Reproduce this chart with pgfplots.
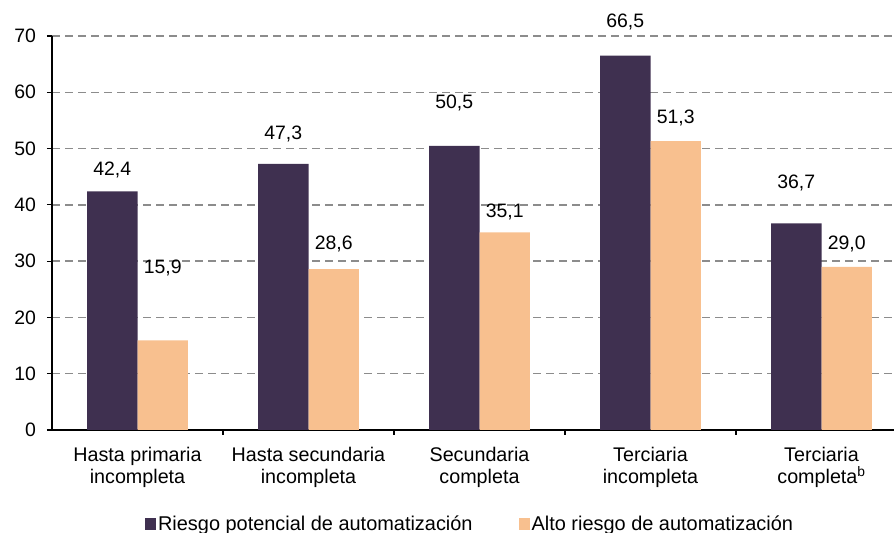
\documentclass[border=0pt]{standalone}
\usepackage{fontspec}
\setmainfont{Liberation Sans}
\usepackage{pgfplots}
\pgfplotsset{compat=1.18}
\definecolor{darkp}{HTML}{3F3050}
\definecolor{peach}{HTML}{F8C08F}
\definecolor{gridg}{HTML}{8C8C8C}
\pgfplotstableread{
x y lab
-0.1475 46.2 42,4
0.1475 28.8 15,9
0.8525 52.6 47,3
1.1475 33.0 28,6
1.8525 58.1 50,5
2.1475 38.7 35,1
2.8525 72.5 66,5
3.1475 55.4 51,3
3.8525 43.9 36,7
4.1475 33.0 29,0
}\labtable
\begin{document}
\fontsize{17.5}{21.5}\selectfont
\begin{tikzpicture}
\begin{axis}[
 name=ax,
 scale only axis, width=842bp, height=394bp,
 xmin=-0.5, xmax=4.424, ymin=0, ymax=70,
 clip=false,
 axis lines=left,
 axis line style={line width=1.5bp, -},
 ytick={0,10,...,70},
 ymajorgrids,
 major grid style={gridg, line width=1.4bp, dash pattern=on 8bp off 5bp},
 xtick={0.5,1.5,2.5,3.5},
 xticklabels={},
 extra x ticks={0,1,2,3,4},
 extra x tick labels={{Hasta primaria\\incompleta},{Hasta secundaria\\incompleta},{Secundaria\\completa},{Terciaria\\incompleta},{Terciaria\\completa\textsuperscript{b}}},
 extra x tick style={major tick length=0pt, xmajorgrids=false,
   xticklabel style={yshift=-11bp}},
 xticklabel style={align=center, font=\fontsize{19.8}{22.5}\selectfont},
 yticklabel style={font=\fontsize{19.5}{21}\selectfont, xshift=-5bp},
 /pgf/number format/assume math mode=true,
 tick align=outside, major tick length=5bp,
 tick style={black, line width=1.2bp},
 legend style={at={(0.4965,-0.2386)}, anchor=center, draw=none, fill=none,
   font=\fontsize{20}{24}\selectfont, legend columns=2,
   nodes={inner xsep=2bp},
   /tikz/every even column/.append style={column sep=44bp}},
]
\addplot[ybar, bar width=0.295, bar shift=-0.1475, fill=darkp, draw=none,
  legend image code/.code={\fill[darkp] (0bp,-5.5bp) rectangle (11bp,5.5bp);}]
  coordinates {(0,42.4) (1,47.3) (2,50.5) (3,66.5) (4,36.7)};
\addlegendentry{Riesgo potencial de automatización}
\addplot[ybar, bar width=0.295, bar shift=0.1475, fill=peach, draw=none,
  legend image code/.code={\fill[peach] (0bp,-5.5bp) rectangle (11bp,5.5bp);}]
  coordinates {(0,15.9) (1,28.6) (2,35.1) (3,51.3) (4,29.0)};
\addlegendentry{Alto riesgo de automatización}
\addplot[draw=none, mark=none, forget plot, nodes near coords,
  point meta=explicit symbolic, nodes near coords align={center},
  every node near coord/.append style={font=\fontsize{19.5}{21}\selectfont, text=black}]
  table[x=x, y=y, meta=lab] {\labtable};
\end{axis}
\pgfresetboundingbox
\path ([shift={(-52bp,-103bp)}]ax.south west) rectangle ([shift={(0bp,36bp)}]ax.north east);
\end{tikzpicture}
\end{document}
